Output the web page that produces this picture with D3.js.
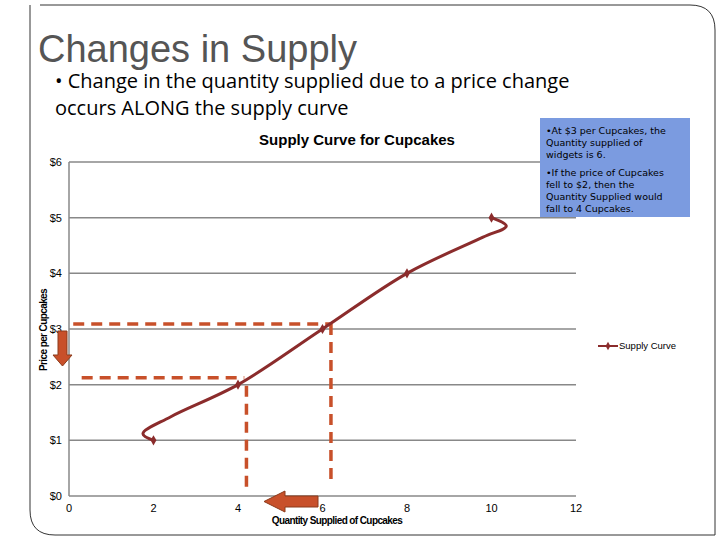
<!DOCTYPE html><html><head><meta charset="utf-8"><script src="https://cdn.jsdelivr.net/npm/d3@7"></script>
<style>body{margin:0;background:#fff}</style></head><body><svg id="s" width="720" height="540"></svg>
<script>
const xTicks=[0,2,4,6,8,10,12];
const yTicks=[0,1,2,3,4,5,6];
const markerPts=[[2,1],[4,2],[6,3],[8,4],[10,5]];
const curvePts=[[2,1],[1.75,1.12],[2.4,1.42],[4,2],[6,3],[8,4],[9.8,4.65],[10.35,4.85],[10,5]];
const svg=d3.select("#s");
const x=d3.scaleLinear().domain([0,12]).range([69,576]);
const y=d3.scaleLinear().domain([0,6]).range([496,162]);
svg.append("path").attr("d","M40,5 L690,5 Q715,5 715,30 L715,535 L55,535 Q30,535 30,510 L30,5").attr("fill","none").attr("stroke","#333").attr("stroke-width",1);
svg.append("text").attr("x",38).attr("y",62).attr("font-family","Liberation Sans, Arial").attr("font-size",38).attr("fill","#555").text("Changes in Supply");
svg.append("text").attr("x",55).attr("y",88).attr("font-family","Open Sans, DejaVu Sans").attr("font-size",20).text("• Change in the quantity supplied due to a price change");
svg.append("text").attr("x",55).attr("y",115).attr("font-family","Open Sans, DejaVu Sans").attr("font-size",20).text("occurs ALONG the supply curve");
svg.append("text").attr("x",357).attr("y",145).attr("text-anchor","middle").attr("font-family","Liberation Sans, Arial").attr("font-weight","bold").attr("font-size",15).text("Supply Curve for Cupcakes");
svg.append("g").selectAll("line").data(yTicks.slice(1)).join("line").attr("x1",x(0)).attr("x2",x(12)).attr("y1",d=>y(d)).attr("y2",d=>y(d)).attr("stroke","#888").attr("stroke-width",1.5);
svg.append("line").attr("x1",x(0)).attr("x2",x(12)).attr("y1",y(0)).attr("y2",y(0)).attr("stroke","#888").attr("stroke-width",1.5);
svg.append("line").attr("x1",x(0)).attr("x2",x(0)).attr("y1",y(0)).attr("y2",y(6)).attr("stroke","#888").attr("stroke-width",1.5);
svg.append("g").selectAll("text").data(yTicks).join("text").attr("x",62).attr("y",d=>y(d)+4).attr("text-anchor","end").attr("font-family","Liberation Sans, Arial").attr("font-size",11).text(d=>"$"+d);
svg.append("g").selectAll("text").data(xTicks).join("text").attr("x",d=>x(d)).attr("y",512).attr("text-anchor","middle").attr("font-family","Liberation Sans, Arial").attr("font-size",11).text(d=>d);
svg.append("text").attr("x",337).attr("y",524).attr("text-anchor","middle").attr("font-family","Liberation Sans, Arial").attr("font-weight","bold").attr("font-size",10).attr("letter-spacing",-0.6).text("Quantity Supplied of Cupcakes");
svg.append("text").attr("transform","translate(47,330) rotate(-90)").attr("text-anchor","middle").attr("font-family","Liberation Sans, Arial").attr("font-weight","bold").attr("font-size",10).attr("letter-spacing",-0.6).text("Price per Cupcakes");
const dc="#c8502a";
const dash=(x1,y1,x2,y2)=>svg.append("line").attr("x1",x1).attr("y1",y1).attr("x2",x2).attr("y2",y2).attr("stroke",dc).attr("stroke-width",3.5).attr("stroke-dasharray","11,7");
dash(x(0.1),y(3)-5,x(6.2),y(3)-5);dash(x(6.2),y(3)-5,x(6.2),y(0)-14);
dash(x(0.3),y(2)-7,x(4.15),y(2)-7);dash(x(4.2),y(2)+1,x(4.2),y(0)-4);
svg.append("path").datum(curvePts).attr("d",d3.line().x(d=>x(d[0])).y(d=>y(d[1])).curve(d3.curveCatmullRom.alpha(0.5))).attr("fill","none").attr("stroke","#8b2c2c").attr("stroke-width",3);
svg.append("g").selectAll("path").data(markerPts).join("path").attr("d",d3.symbol(d3.symbolDiamond,30)).attr("transform",d=>`translate(${x(d[0])},${y(d[1])})`).attr("fill","#8b2c2c");
svg.append("path").attr("d","M58,331 L67,331 L67,355 L72,355 L62.5,366 L53,355 L58,355 Z").attr("fill","#c8502a").attr("stroke","#8b3a1a");
svg.append("path").attr("d","M318,496 L318,507 L285,507 L285,512 L264,501.5 L285,491 L285,496 Z").attr("fill","#c8502a").attr("stroke","#8b3a1a");
svg.append("line").attr("x1",598).attr("x2",618).attr("y1",346).attr("y2",346).attr("stroke","#8b2c2c").attr("stroke-width",2);
svg.append("path").attr("d",d3.symbol(d3.symbolDiamond,20)).attr("transform","translate(608,346)").attr("fill","#8b2c2c");
svg.append("text").attr("x",619).attr("y",349).attr("font-family","Liberation Sans, Arial").attr("font-size",9.5).text("Supply Curve");
svg.append("rect").attr("x",540).attr("y",118).attr("width",150).attr("height",99).attr("fill","#7b9be0");
const bl=["•At $3 per Cupcakes, the","Quantity supplied of","widgets is 6.",null,"•If the price of Cupcakes","fell to $2, then the","Quantity Supplied would","fall to 4 Cupcakes."];
const ys=[134,146,158,0,176,188,200,212];
bl.forEach((t,i)=>{if(t)svg.append("text").attr("x",546).attr("y",ys[i]).attr("font-family","DejaVu Sans").attr("font-size",9.5).text(t);});
</script></body></html>
